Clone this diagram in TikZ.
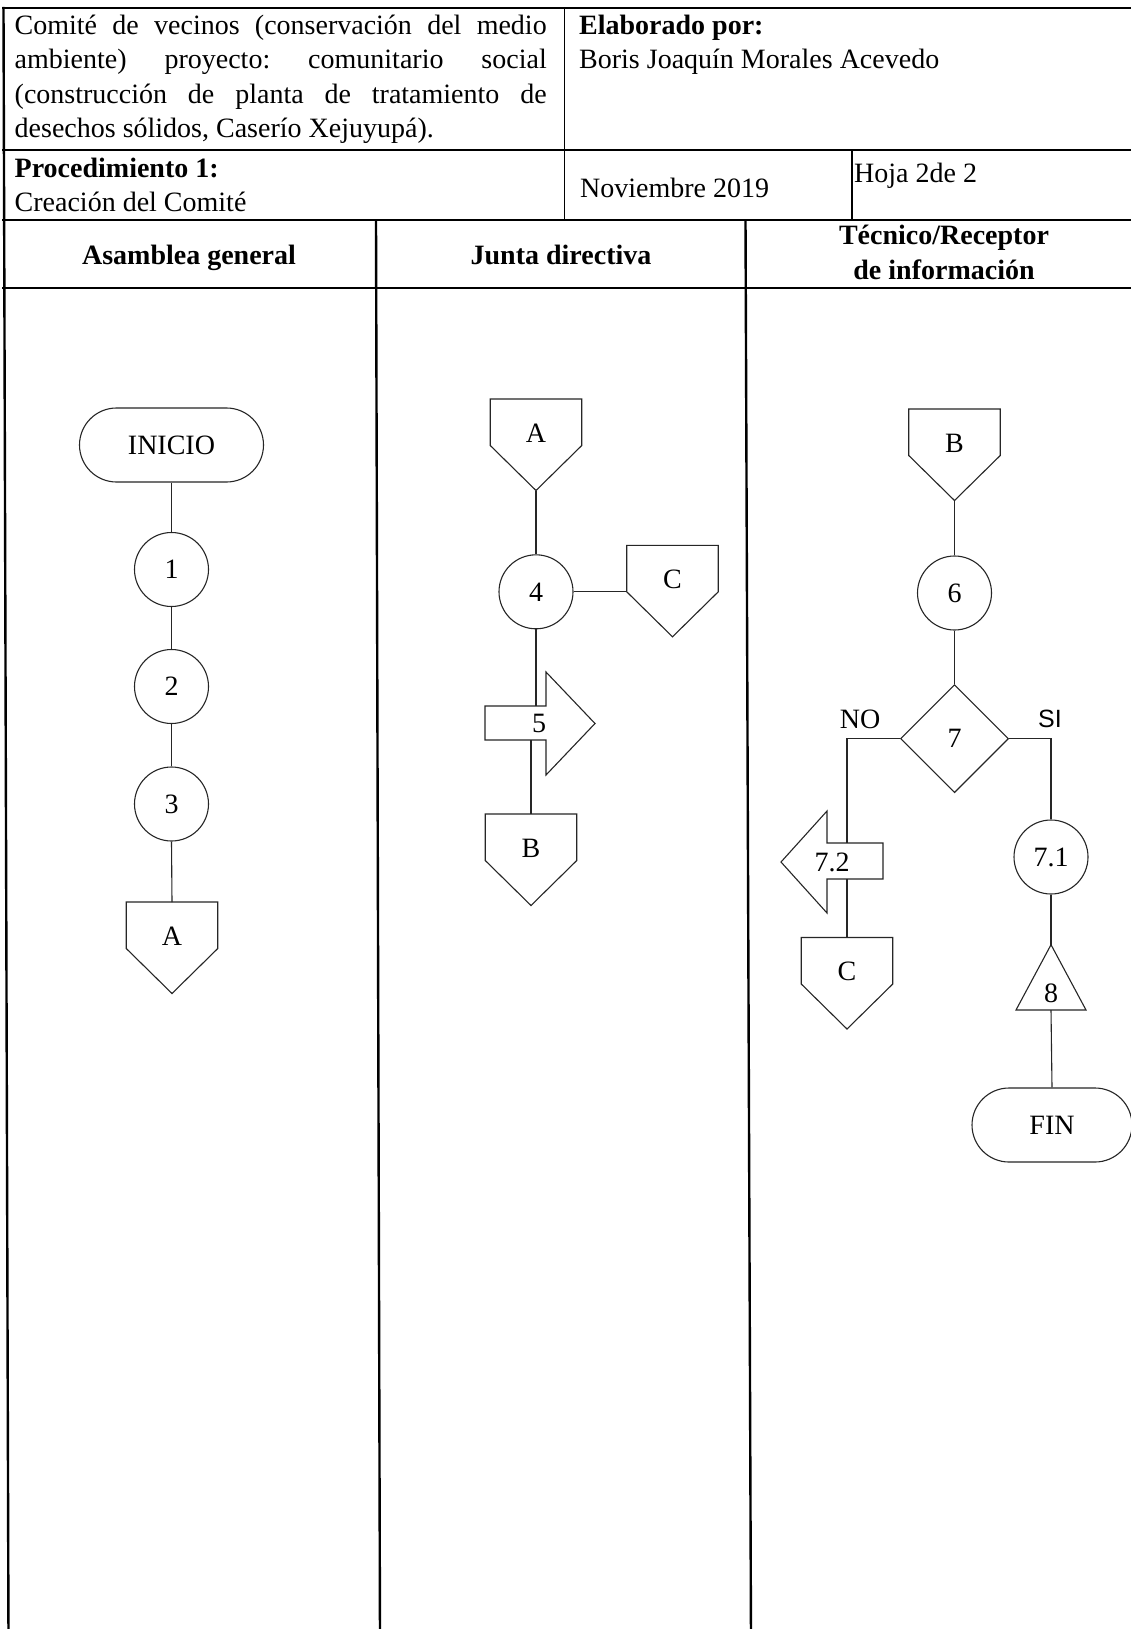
\documentclass[tikz,border=0pt]{standalone}
\usepackage{fontspec}
\setmainfont{Liberation Serif}
\newfontfamily\sansf{Liberation Sans}
\usetikzlibrary{shapes.geometric,shapes.misc}
\frenchspacing
\tikzset{
  tbl/.style={line width=1.8pt},
  lane/.style={line width=2.4pt},
  shp/.style={draw=black!85, line width=1.1pt},
  con/.style={draw=black!85, line width=1.1pt},
  txt/.style={inner sep=0pt, font=\fontsize{28}{34}\selectfont},
  btxt/.style={inner sep=0pt, font=\fontsize{28}{34}\selectfont\bfseries},
  circ/.style={shp, circle, minimum size=74pt, inner sep=0pt, font=\fontsize{28}{34}\selectfont},
  term/.style={shp, rounded rectangle, minimum height=74pt, inner sep=0pt, font=\fontsize{28}{34}\selectfont},
  dec/.style={shp, diamond, minimum width=108pt, minimum height=108pt, inner sep=0pt, font=\fontsize{28}{34}\selectfont},
}
% off-page connector: name, centre x, top y, label
\newcommand\offpg[4]{%
  \draw[shp] ({#2-45.75},{#3}) -- ({#2+45.75},{#3}) -- ({#2+45.75},{#3+46.5}) -- ({#2},{#3+91.5}) -- ({#2-45.75},{#3+46.5}) -- cycle;
  \node[txt] (#1) at ({#2},{#3+34}) {#4};
  \coordinate (#1-top) at ({#2},{#3});
  \coordinate (#1-tip) at ({#2},{#3+91.5});
  \coordinate (#1-left) at ({#2-45.75},{#3+46.5});
}
\begin{document}
\begin{tikzpicture}[x=1pt,y=-1pt]
\useasboundingbox (0,0) rectangle (1130,1629);
\fill[white] (0,0) rectangle (1130,1629);

% ---------- table ----------
\draw[tbl] (2,8) -- (1145,8);
\draw[tbl] (2,150) -- (1145,150);
\draw[tbl] (2,220) -- (1145,220);
\draw[tbl] (2,288) -- (1145,288);
\draw[tbl] (564.5,8) -- (564.5,220);
\draw[tbl] (852,150) -- (852,220);
\draw[lane] (3.5,7) -- (8.5,1640);
\draw[lane] (376,220) -- (380,1640);
\draw[lane] (745.5,220) -- (751,1640);

% ---------- header texts ----------
\node[txt, anchor=base west] (h1a) at (14.5,35) {\makebox[532pt][s]{Comité de vecinos (conservación del medio}};
\node[txt, anchor=base west] (h1b) at (14.5,69) {\makebox[532pt][s]{ambiente) proyecto: comunitario social}};
\node[txt, anchor=base west] (h1c) at (14.5,103.5) {\makebox[532pt][s]{(construcción de planta de tratamiento de}};
\node[txt, anchor=base west] (h1d) at (14.5,138) {desechos sólidos, Caserío Xejuyupá).};
\node[btxt, anchor=base west] (h2a) at (579,35) {Elaborado por:};
\node[txt, anchor=base west] (h2b) at (579,69) {Boris Joaquín Morales Acevedo};
\node[btxt, anchor=base west] (h3a) at (14.5,178) {Procedimiento 1:};
\node[txt, anchor=base west] (h3b) at (14.5,212) {Creación del Comité};
\node[txt, anchor=base west] (h4) at (580,198) {Noviembre 2019};
\node[txt, anchor=base west] (h5) at (854,183) {Hoja 2de 2};
\node[btxt, anchor=base] (l1) at (189,265) {Asamblea general};
\node[btxt, anchor=base] (l2) at (561,265) {Junta directiva};
\node[btxt, anchor=base] (l3a) at (944,245) {Técnico/Receptor};
\node[btxt, anchor=base] (l3b) at (944,279) {de información};

% ---------- lane 1 ----------
\node[term, minimum width=184pt] (ini) at (171.5,445) {INICIO};
\node[circ] (c1) at (171.5,569.5) {1};
\node[circ] (c2) at (171.5,686.5) {2};
\node[circ] (c3) at (171.5,804) {3};
\offpg{A1}{172}{902}{A}
\draw[con] (ini.south) -- (c1.north);
\draw[con] (c1.south) -- (c2.north);
\draw[con] (c2.south) -- (c3.north);
\draw[con] (c3.south) -- (A1-top);

% ---------- lane 2 ----------
\offpg{A2}{536}{399}{A}
\node[circ] (c4) at (536,591.8) {4};
\offpg{C2}{672.5}{545.3}{C}
\draw[shp] (485,706) -- (546,706) -- (546,672) -- (595,723.5) -- (546,775) -- (546,740) -- (485,740) -- cycle;
\node[txt] (a5) at (539,723.5) {5};
\coordinate (a5top) at (536,706);
\coordinate (a5bot) at (531,740);
\offpg{B2}{531}{814}{B}
\draw[con] (A2-tip) -- (c4.north);
\draw[con] (c4.east) -- (C2-left);
\draw[con] (c4.south) -- (a5top);
\draw[con] (a5bot) -- (B2-top);

% ---------- lane 3 ----------
\offpg{B3}{954.5}{409}{B}
\node[circ] (c6) at (954.5,593) {6};
\node[dec] (d7) at (954.5,738.7) {7};
\node[txt] (no) at (860,719) {NO};
\node[inner sep=0pt, font=\sansf\fontsize{25}{30}\selectfont] (si) at (1050,719) {SI};
\draw[shp] (883,843) -- (827,843) -- (827,811) -- (781,862) -- (827,913) -- (827,879) -- (883,879) -- cycle;
\node[txt] (a72) at (832,862) {7.2};
\coordinate (a72top) at (847,843);
\coordinate (a72bot) at (847,879);
\offpg{C3}{847}{937.5}{C}
\node[circ] (c71) at (1051,857) {7.1};
\draw[shp] (1051,944.7) -- (1086,1010) -- (1016,1010) -- cycle;
\node[txt] (t8) at (1051,993) {8};
\coordinate (t8apex) at (1051,944.7);
\coordinate (t8base) at (1051,1010);
\node[term, minimum width=160pt] (fin) at (1052,1125) {FIN};
\draw[con] (B3-tip) -- (c6.north);
\draw[con] (c6.south) -- (d7.north);
\draw[con] (d7.west) -| (a72top);
\draw[con] (a72bot) -- (C3-top);
\draw[con] (d7.east) -| (c71.north);
\draw[con] (c71.south) -- (t8apex);
\draw[con] (t8base) -- (fin.north);
\end{tikzpicture}
\end{document}
